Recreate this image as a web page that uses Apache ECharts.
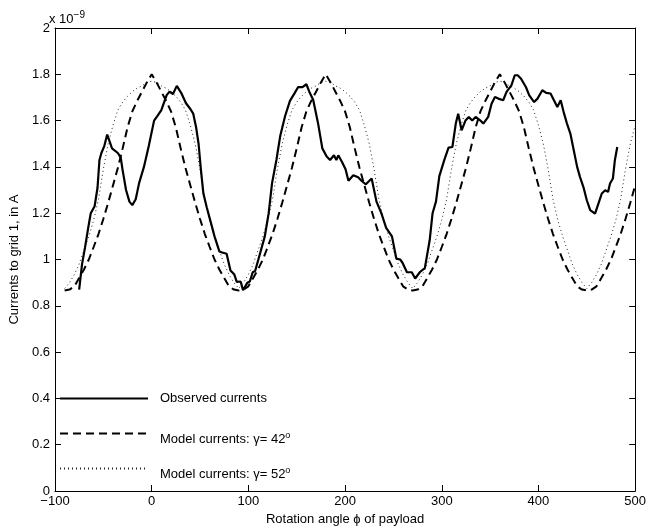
<!DOCTYPE html>
<html>
<head>
<meta charset="utf-8">
<script src="https://cdn.jsdelivr.net/npm/echarts@6/dist/echarts.min.js"></script>
<style>
html,body{margin:0;padding:0;background:#fff;}
#chart{width:649px;height:532px;}
</style>
</head>
<body>
<div id="chart"></div>
<script>
// ---- data (currents in units of 1e-9 A) ----
const xTicks = [-100, 0, 100, 200, 300, 400, 500];
const yTicks = [0, 0.2, 0.4, 0.6, 0.8, 1, 1.2, 1.4, 1.6, 1.8, 2];

const obsPhi = [-75,-72,-69,-65.5,-63,-59,-56,-54,-52,-49,-46,-41,-35,-32,-30,-26.5,-23,-20,-16.5,-13,-8,-3,2.5,6,10,15.5,18.5,22,26,30.5,35.5,40,43,46,48.5,51,53.5,57,61.5,65,70,73,77.5,81.5,85.5,88,92,94.5,99,101.5,104.5,107,111,117,121,124.5,129,133,138,143,148,151.5,156,160,163.5,167,172,176.5,181,184.5,188.5,191,193,197,200.5,203.5,208.5,213.5,217.5,221.5,227.5,232.5,237.5,242.5,248.5,253,257,259.5,264,269,272.5,277.5,282.5,287.5,290.5,294,297.5,302.5,307,311,314.5,317,320.5,324.5,328,331.5,335,340,343,348,351.5,355,358.5,363.5,367,372,375.5,378.5,382,387,390.5,395.5,399,404,408,412.5,416,419.5,423,426.5,429.5,433,436.5,440,443,446.5,450,453.5,458.5,462,465.5,469,472,474,477,479,481.5];
const obsCur = [0.87,0.98,1.05,1.14,1.20,1.23,1.31,1.43,1.46,1.49,1.54,1.48,1.46,1.44,1.385,1.30,1.25,1.235,1.26,1.33,1.40,1.49,1.60,1.62,1.645,1.71,1.725,1.715,1.75,1.72,1.675,1.65,1.63,1.57,1.50,1.385,1.285,1.225,1.155,1.10,1.035,1.03,1.025,0.953,0.935,0.903,0.905,0.867,0.90,0.905,0.945,0.95,1.01,1.10,1.20,1.33,1.43,1.535,1.62,1.685,1.72,1.745,1.745,1.757,1.72,1.69,1.59,1.48,1.445,1.43,1.45,1.43,1.45,1.42,1.39,1.34,1.364,1.355,1.338,1.325,1.35,1.25,1.20,1.137,1.10,1.004,1.0,0.985,0.945,0.945,0.918,0.946,0.963,1.083,1.20,1.25,1.36,1.428,1.483,1.486,1.587,1.63,1.558,1.60,1.616,1.60,1.616,1.60,1.587,1.616,1.673,1.702,1.695,1.688,1.724,1.752,1.796,1.796,1.781,1.745,1.709,1.68,1.695,1.731,1.72,1.717,1.688,1.659,1.688,1.63,1.587,1.544,1.472,1.40,1.356,1.313,1.256,1.213,1.198,1.241,1.285,1.299,1.292,1.328,1.35,1.428,1.486];

const modelPhi = [-90,-85,-80,-75,-70,-65,-60,-55,-50,-45,-40,-35,-30,-25,-20,-15,-10,-5,0,5,10,15,20,25,30,35,40,45,50,55,60,65,70,75,80,85,90,95,100,105,110,115,120,125,130,135,140,145,150,155,160,165,170,175,180,185,190,195,200,205,210,215,220,225,230,235,240,245,250,255,260,265,270,275,280,285,290,295,300,305,310,315,320,325,330,335,340,345,350,355,360,365,370,375,380,385,390,395,400,405,410,415,420,425,430,435,440,445,450,455,460,465,470,475,480,485,490,495,500];

const model42 = [
0.866,0.87,0.884,0.92,0.957,1.00,1.054,1.11,1.175,1.245,1.32,1.395,1.48,1.57,1.64,1.685,1.725,1.765,1.80,
1.765,1.725,1.685,1.64,1.57,1.48,1.395,1.32,1.245,1.175,1.11,1.054,1.00,0.957,0.92,0.884,0.87,0.866,
0.87,0.884,0.92,0.957,1.00,1.054,1.11,1.175,1.245,1.32,1.395,1.48,1.57,1.64,1.685,1.725,1.765,1.80,
1.765,1.725,1.685,1.64,1.57,1.48,1.395,1.32,1.245,1.175,1.11,1.054,1.00,0.957,0.92,0.884,0.87,0.866,
0.87,0.884,0.92,0.957,1.00,1.054,1.11,1.175,1.245,1.32,1.395,1.48,1.57,1.64,1.685,1.725,1.765,1.80,
1.765,1.725,1.685,1.64,1.57,1.48,1.395,1.32,1.245,1.175,1.11,1.054,1.00,0.957,0.92,0.884,0.87,0.866,
0.87,0.884,0.92,0.957,1.00,1.054,1.11,1.175,1.245,1.32];

const model52 = [
0.875,0.90,0.935,0.98,1.04,1.10,1.17,1.26,1.39,1.50,1.58,1.645,1.68,1.705,1.725,1.74,1.75,1.765,1.77,
1.765,1.75,1.74,1.725,1.705,1.68,1.645,1.58,1.50,1.39,1.26,1.17,1.10,1.04,0.98,0.935,0.90,0.875,
0.90,0.935,0.98,1.04,1.10,1.17,1.26,1.39,1.50,1.58,1.645,1.68,1.705,1.725,1.74,1.75,1.765,1.77,
1.765,1.75,1.74,1.725,1.705,1.68,1.645,1.58,1.50,1.39,1.26,1.17,1.10,1.04,0.98,0.935,0.90,0.875,
0.90,0.935,0.98,1.04,1.10,1.17,1.26,1.39,1.50,1.58,1.645,1.68,1.705,1.725,1.74,1.75,1.765,1.77,
1.765,1.75,1.74,1.725,1.705,1.68,1.645,1.58,1.50,1.39,1.26,1.17,1.10,1.04,0.98,0.935,0.90,0.875,
0.90,0.935,0.98,1.04,1.10,1.17,1.26,1.39,1.50,1.58];

const seriesNames = ['Observed currents', 'Model currents: \u03b3= 42', 'Model currents: \u03b3= 52'];

// ---- chart ----
const FONT = '"Liberation Sans", Arial, Helvetica, sans-serif';
const zip = (a, b) => a.map((v, i) => [v, b[i]]);
const chart = echarts.init(document.getElementById('chart'), null, {renderer: 'canvas'});

const axisCommon = {
  axisLine: {show: true, onZero: false, lineStyle: {color: '#000', width: 1}},
  axisTick: {show: true, inside: true, length: 6, lineStyle: {color: '#000', width: 1}},
  splitLine: {show: false}
};
const supRich = {sup: {fontSize: 9, fontFamily: FONT, color: '#000', padding: [0, 0, 8, 0]}};

function legendFor(name, top, pad) {
  return {
    data: [name],
    orient: 'vertical',
    left: 59,
    top: top,
    padding: 0,
    itemWidth: 88,
    itemHeight: 14,
    selectedMode: false,
    itemStyle: {opacity: 0},
    formatter: n => n.indexOf('Model') === 0 ? n + '{sup|o}' : n,
    textStyle: {fontSize: 13, fontFamily: FONT, color: '#000', padding: pad, rich: supRich}
  };
}

chart.setOption({
  animation: false,
  backgroundColor: '#fff',
  grid: {left: 49, right: 11, top: 28, bottom: 41, containLabel: false},
  legend: [
    legendFor(seriesNames[0], 392, [0, 0, 0, 7]),
    legendFor(seriesNames[1], 428, [12, 0, 0, 7]),
    legendFor(seriesNames[2], 463, [12, 0, 0, 7])
  ],
  graphic: [{
    type: 'text', left: 49, top: 10,
    style: {text: 'x 10{sup|\u22129}', font: '13px ' + FONT, fill: '#000',
      rich: {sup: {fontSize: 10, fontFamily: FONT, fill: '#000', padding: [0, 0, 8, 0]}}}
  }],
  xAxis: [
    Object.assign({}, axisCommon, {
      type: 'value', position: 'bottom', min: -100, max: 500, interval: 100,
      name: 'Rotation angle \u03d5 of payload', nameLocation: 'middle', nameGap: 18,
      nameTextStyle: {fontSize: 13, fontFamily: FONT, color: '#000'},
      axisLabel: {fontSize: 13, fontFamily: FONT, color: '#000', margin: 4,
        formatter: v => (v < 0 ? '\u2212' + Math.abs(v) : String(v))}
    }),
    Object.assign({}, axisCommon, {
      type: 'value', position: 'top', min: -100, max: 500, interval: 100,
      axisLabel: {show: false}
    })
  ],
  yAxis: [
    Object.assign({}, axisCommon, {
      type: 'value', position: 'left', min: 0, max: 2, interval: 0.2,
      name: 'Currents to grid 1, in A', nameLocation: 'middle', nameGap: 30,
      nameTextStyle: {fontSize: 13, fontFamily: FONT, color: '#000'},
      axisLabel: {fontSize: 13, fontFamily: FONT, color: '#000', margin: 5,
        formatter: v => String(Math.round(v * 10) / 10)}
    }),
    Object.assign({}, axisCommon, {
      type: 'value', position: 'right', min: 0, max: 2, interval: 0.2,
      axisLabel: {show: false}
    })
  ],
  series: [
    {name: seriesNames[0], type: 'line', data: zip(obsPhi, obsCur), symbol: 'none', smooth: false,
      lineStyle: {color: '#000', width: 2.2, type: 'solid'}, itemStyle: {color: '#000'}, z: 5},
    {name: seriesNames[1], type: 'line', data: zip(modelPhi, model42), symbol: 'none', smooth: false,
      lineStyle: {color: '#000', width: 2, type: [8, 5]}, itemStyle: {color: '#000'}, z: 4},
    {name: seriesNames[2], type: 'line', data: zip(modelPhi, model52), symbol: 'none', smooth: false,
      lineStyle: {color: '#222', width: 1, type: [1, 3]}, itemStyle: {color: '#222'}, z: 3}
  ]
});
</script>
</body>
</html>
